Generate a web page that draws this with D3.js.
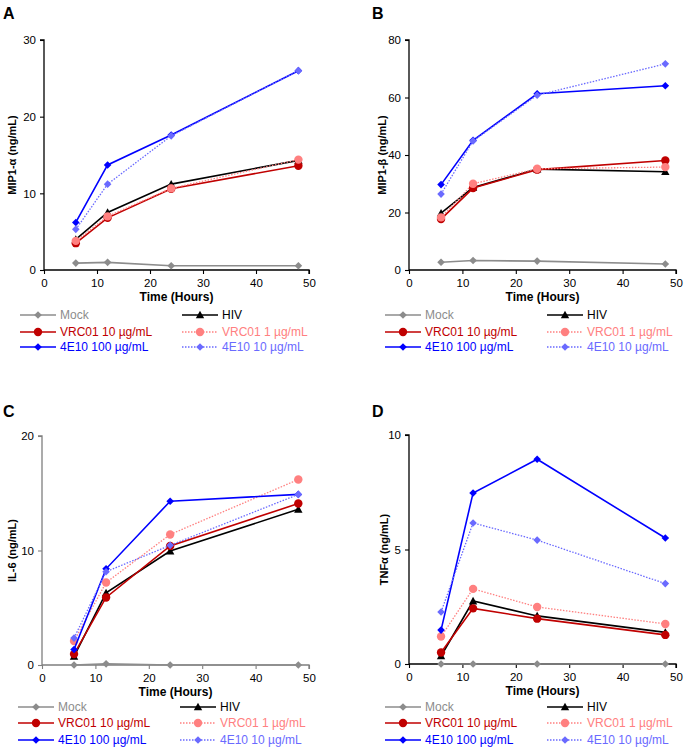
<!DOCTYPE html>
<html>
<head>
<meta charset="utf-8">
<script src="https://cdn.jsdelivr.net/npm/d3@7"></script>
<style>
  body { margin: 0; background: #fff; }
  svg { font-family: "Liberation Sans", Arial, sans-serif; }
</style>
</head>
<body>
<svg id="chart" width="687" height="749"></svg>
<script>
// time points (hours)
const hours = [6, 12, 24, 48];

// series names, in draw order
const seriesNames = ["Mock", "HIV", "VRC01 10 µg/mL", "VRC01 1 µg/mL", "4E10 100 µg/mL", "4E10 10 µg/mL"];

// panel A: MIP1-alpha (ng/mL)
const mip1a = [
  [0.9, 1.0, 0.55, 0.55],
  [4.0, 7.5, 11.2, 14.3],
  [3.5, 6.8, 10.6, 13.6],
  [3.8, 7.0, 10.65, 14.4],
  [6.2, 13.7, 17.6, 26.0],
  [5.3, 11.2, 17.5, 26.0]
];
// panel B: MIP1-beta (ng/mL)
const mip1b = [
  [2.7, 3.3, 3.1, 2.1],
  [19.8, 28.7, 35.1, 34.2],
  [17.7, 28.5, 34.9, 38.1],
  [18.3, 30.0, 35.2, 35.8],
  [29.7, 45.1, 61.3, 64.1],
  [26.4, 44.9, 60.8, 71.7]
];
// panel C: IL-6 (ng/mL)
const il6 = [
  [0.0, 0.1, 0.0, 0.0],
  [0.75, 6.3, 9.95, 13.6],
  [0.95, 5.9, 10.4, 14.1],
  [2.1, 7.2, 11.4, 16.2],
  [1.35, 8.4, 14.3, 14.9],
  [2.35, 8.15, 10.45, 14.9]
];
// panel D: TNF-alpha (ng/mL)
const tnfa = [
  [0.0, 0.0, 0.0, 0.0],
  [0.35, 2.75, 2.1, 1.38],
  [0.5, 2.43, 1.98, 1.27],
  [1.2, 3.28, 2.49, 1.75],
  [1.48, 7.47, 8.94, 5.5],
  [2.27, 6.16, 5.41, 3.51]
];

// style per series
const styles = [
  { color: "#8c8c8c", dash: null, marker: "diamond", size: 3.8 },
  { color: "#000000", dash: null, marker: "triangle", size: 4.2 },
  { color: "#c00000", dash: null, marker: "circle", size: 4.2 },
  { color: "#ff8080", dash: "1.5,1.5", marker: "circle", size: 4.2 },
  { color: "#0000ff", dash: null, marker: "diamond", size: 3.8 },
  { color: "#6a6aff", dash: "1.5,1.5", marker: "diamond", size: 3.8 }
];

const panels = [
  { letter: "A", title: "MIP1-α (ng/mL)", data: mip1a, yMax: 30, yTicks: [0, 10, 20, 30],
    l: 44, r: 309, t: 40, b: 270, axis: "#000", lx: 3, ly: 19, tx: 12, rows: [45, 62, 77] },
  { letter: "B", title: "MIP1-β (ng/mL)", data: mip1b, yMax: 80, yTicks: [0, 20, 40, 60, 80],
    l: 409, r: 676, t: 40, b: 270, axis: "#000", lx: 372, ly: 19, tx: 382, rows: [45, 62, 77] },
  { letter: "C", title: "IL-6 (ng/mL)", data: il6, yMax: 20, yTicks: [0, 10, 20],
    l: 42, r: 309, t: 436, b: 665, axis: "#7f7f7f", lx: 3, ly: 417, tx: 12, rows: [42, 58, 75] },
  { letter: "D", title: "TNFα (ng/mL)", data: tnfa, yMax: 10, yTicks: [0, 5, 10],
    l: 409, r: 676, t: 435, b: 664, axis: "#000", lx: 372, ly: 417, tx: 384, rows: [43, 59, 76] }
];

const svg = d3.select("#chart");

function marker(g, type, x, y, s, color) {
  if (type === "circle") {
    g.append("circle").attr("cx", x).attr("cy", y).attr("r", s).attr("fill", color);
  } else if (type === "triangle") {
    g.append("path")
      .attr("d", `M${x},${y - s}L${x + s},${y + s * 0.8}L${x - s},${y + s * 0.8}Z`)
      .attr("fill", color);
  } else {
    g.append("path")
      .attr("d", `M${x},${y - s}L${x + s},${y}L${x},${y + s}L${x - s},${y}Z`)
      .attr("fill", color);
  }
}

panels.forEach(p => {
  const g = svg.append("g");
  const x = d3.scaleLinear().domain([0, 50]).range([p.l, p.r]);
  const y = d3.scaleLinear().domain([0, p.yMax]).range([p.b, p.t]);

  g.append("text").attr("x", p.lx).attr("y", p.ly)
    .attr("font-size", 16).attr("font-weight", "bold").text(p.letter);

  // axes
  const ya = g.append("g").attr("transform", `translate(${p.l},0)`)
    .call(d3.axisLeft(y).tickValues(p.yTicks).tickSize(4).tickPadding(4));
  const xa = g.append("g").attr("transform", `translate(0,${p.b})`)
    .call(d3.axisBottom(x).tickValues([0, 10, 20, 30, 40, 50]).tickSize(4).tickPadding(5));
  [ya, xa].forEach(a => {
    a.select(".domain").attr("stroke", p.axis).attr("stroke-width", 1.3);
    a.selectAll(".tick line").attr("stroke", p.axis).attr("stroke-width", 1.1);
    a.selectAll("text").attr("font-size", 11.5).attr("fill", "#000")
      .attr("font-family", "Liberation Sans, Arial, sans-serif");
  });
  ya.select(".domain").attr("d", `M-4,${p.t}H0V${p.b}`);
  xa.select(".domain").attr("d", `M${p.l},0H${p.r}V4`);

  g.append("text")
    .attr("transform", `translate(${p.tx + 4},${(p.t + p.b) / 2}) rotate(-90)`)
    .attr("text-anchor", "middle").attr("font-size", 11).attr("font-weight", "bold")
    .text(p.title);

  g.append("text").attr("x", (p.l + p.r) / 2).attr("y", p.b + 31)
    .attr("text-anchor", "middle").attr("font-size", 12).attr("font-weight", "bold")
    .text("Time (Hours)");

  const line = d3.line().x((d, i) => x(hours[i])).y(d => y(d));
  p.data.forEach((vals, si) => {
    const st = styles[si];
    const sg = g.append("g");
    sg.append("path").datum(vals).attr("d", line)
      .attr("fill", "none").attr("stroke", st.color)
      .attr("stroke-width", st.dash ? 1.3 : 1.6)
      .attr("stroke-dasharray", st.dash);
    vals.forEach((v, i) => marker(sg, st.marker, x(hours[i]), y(v), st.size, st.color));
  });

  // legend
  const cols = [p.l - 24, p.l + 138];
  const order = [[0, 1], [2, 3], [4, 5]];
  order.forEach((pair, ri) => {
    pair.forEach((si, ci) => {
      const st = styles[si];
      const lx = cols[ci], ly = p.b + p.rows[ri];
      g.append("line").attr("x1", lx).attr("x2", lx + 36).attr("y1", ly).attr("y2", ly)
        .attr("stroke", st.color).attr("stroke-width", st.dash ? 1.3 : 1.6)
        .attr("stroke-dasharray", st.dash);
      marker(g, st.marker, lx + 18, ly, st.size, st.color);
      g.append("text").attr("x", lx + 40).attr("y", ly + 4.3)
        .attr("font-size", 12).attr("fill", st.color).text(seriesNames[si]);
    });
  });
});
</script>
</body>
</html>
